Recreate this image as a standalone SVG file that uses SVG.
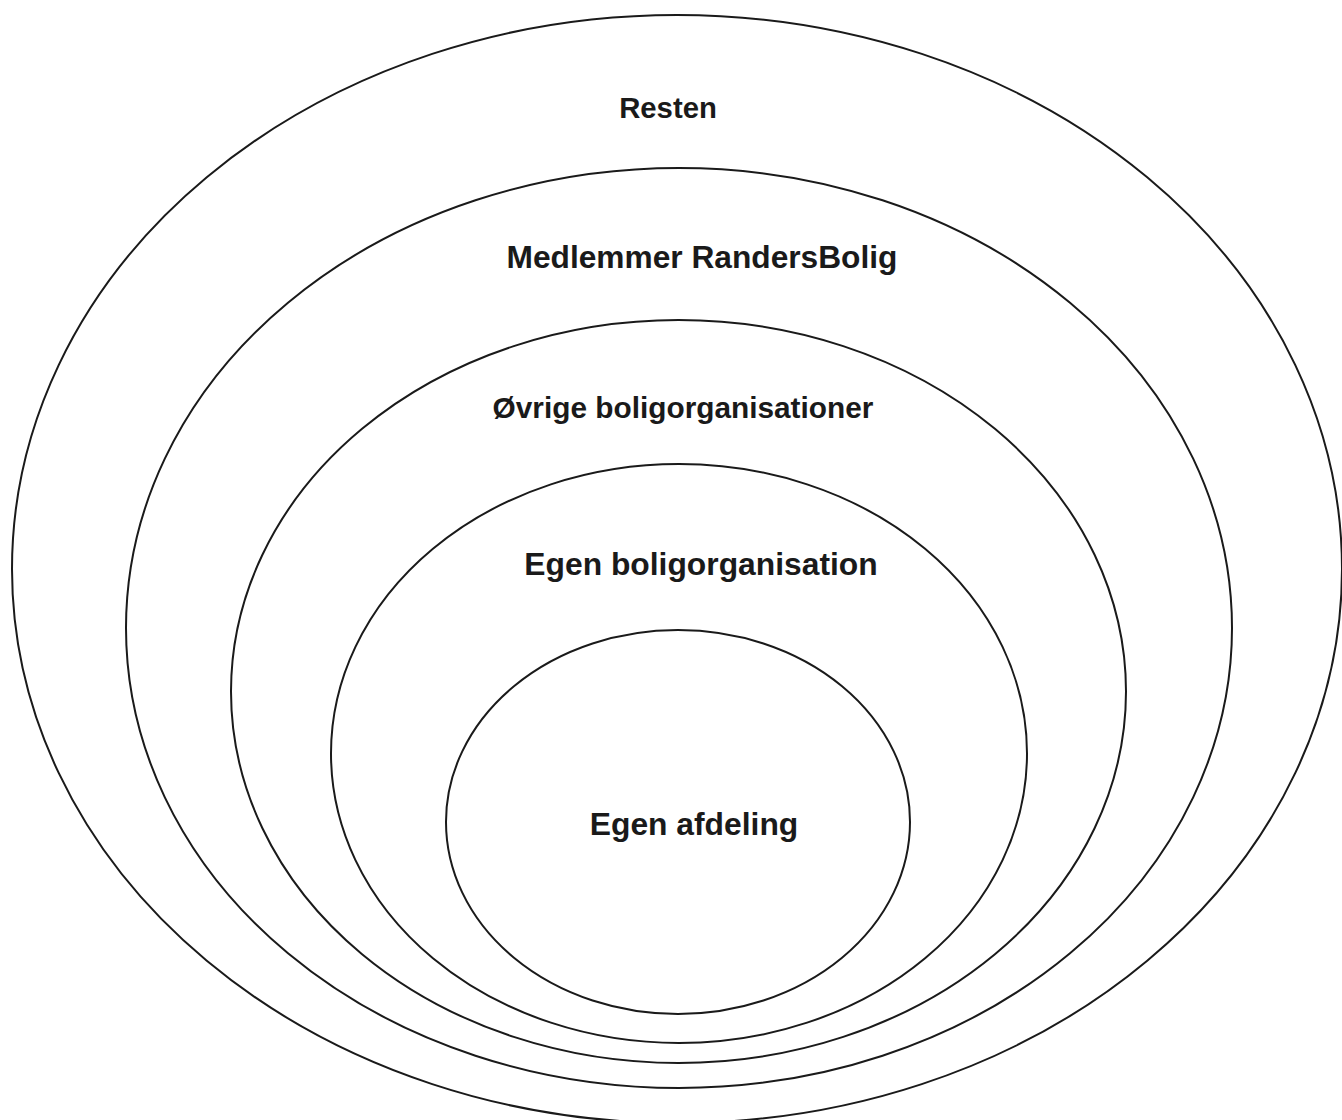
<svg xmlns="http://www.w3.org/2000/svg" width="1342" height="1120" viewBox="0 0 1342 1120">
<style>
.ring{fill:none;stroke:#1a1a1a;stroke-width:2}
.lbl{font-family:"Liberation Sans",Arial,sans-serif;font-weight:bold;font-size:30px;fill:#1a1a1a;text-anchor:middle}
</style>
<rect width="1342" height="1120" fill="#fff"/>
<g id="resten">
<ellipse class="ring" cx="677" cy="569" rx="665" ry="554"/>
<text class="lbl" x="668" y="118" style="font-size:29.3px">Resten</text>
</g>
<g id="medlemmer">
<ellipse class="ring" cx="679" cy="628" rx="553" ry="460"/>
<text class="lbl" x="702" y="268" style="font-size:31.7px">Medlemmer RandersBolig</text>
</g>
<g id="oevrige">
<ellipse class="ring" cx="678.5" cy="691.5" rx="447.5" ry="371.5"/>
<text class="lbl" x="683" y="418" style="font-size:29.8px">Øvrige boligorganisationer</text>
</g>
<g id="egenorg">
<ellipse class="ring" cx="679" cy="753.5" rx="348" ry="289.5"/>
<text class="lbl" x="701" y="575" style="font-size:31.8px">Egen boligorganisation</text>
</g>
<g id="egenafd">
<ellipse class="ring" cx="678" cy="822" rx="232" ry="192"/>
<text class="lbl" x="694" y="835" style="font-size:31.8px">Egen afdeling</text>
</g>
<g id="connectors"/>
</svg>
